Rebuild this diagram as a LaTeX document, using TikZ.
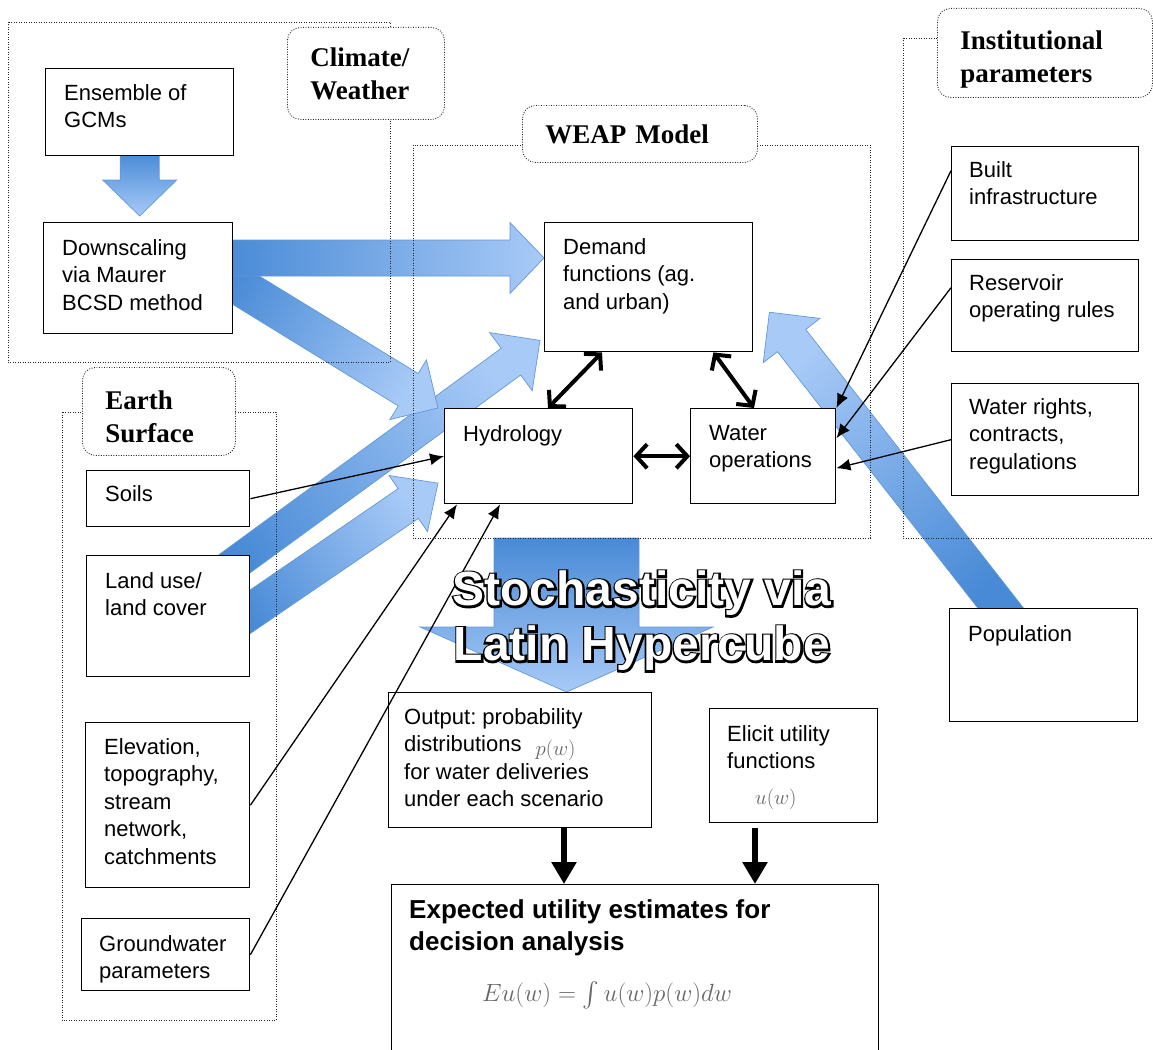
\documentclass[tikz,border=0pt]{standalone}
\usepackage{exscale}
\usepackage{fontspec}
\setmainfont{Liberation Serif}
\setsansfont{Liberation Sans}
\newfontfamily\outlinefont{Liberation Sans}[BoldFeatures={FakeBold=8}]
\usetikzlibrary{%
  positioning,
  calc,
  arrows.meta,
}

\definecolor{flowdark}{RGB}{72,138,214}
\definecolor{flowlight}{RGB}{168,202,247}
\definecolor{flowedge}{RGB}{98,152,218}

\pgfdeclarelayer{flows}
\pgfdeclarelayer{frames}
\pgfsetlayers{flows,frames,main}

% broad blue arrow: tail, tip, half shaft, half head, head length
\newcommand{\flowarrow}[5]{%
  \coordinate (fa-s) at #1;
  \coordinate (fa-t) at #2;
  \coordinate (fa-b) at ($(fa-t)!#5!(fa-s)$);
  \pgfmathanglebetweenpoints{\pgfpointanchor{fa-s}{center}}{\pgfpointanchor{fa-t}{center}}%
  \pgfmathsetmacro{\flowangle}{\pgfmathresult+90}%
  \path[flow, shading angle=\flowangle]
    ($(fa-s)!#3!90:(fa-t)$) -- ($(fa-b)!#3!-90:(fa-s)$) -- ($(fa-b)!#4!-90:(fa-s)$)
    -- (fa-t) -- ($(fa-b)!#4!90:(fa-s)$) -- ($(fa-b)!#3!90:(fa-s)$)
    -- ($(fa-s)!#3!-90:(fa-t)$) -- cycle;
}

\begin{document}
\begin{tikzpicture}[
    x=1pt, y=-1pt,
    box/.style={
      % The shape:
      rectangle, anchor=north west, inner sep=0pt,
      % The border:
      draw=black, line width=1.4pt,
      % The filling:
      fill=white,
    },
    % the text inside a box
    txt/.style={align=left, inner sep=0pt,
      font=\sffamily\frenchspacing\fontsize{22}{27.5}\selectfont},
    % dotted frames and their rounded titles
    frame/.style={draw=black!85, line width=0.9pt, dash pattern=on 0.9pt off 1.6pt},
    title/.style={frame, rounded corners=13pt, fill=white, anchor=north west,
      align=left, inner ysep=0pt, inner xsep=23pt,
      font=\bfseries\fontsize{27}{33}\selectfont},
    % the broad blue arrows
    flow/.style={top color=flowdark, bottom color=flowlight,
      draw=flowedge, line width=0.7pt},
    % black connectors
    link/.style={line width=1.3pt, -{Latex[length=14pt, width=12pt]}},
    both/.style={line width=4pt,
      {Straight Barb[length=11pt, width=24pt]}-{Straight Barb[length=11pt, width=24pt]}},
    feed/.style={line width=6pt, -{Triangle[length=22pt, width=24pt]}},
    % the big caption over the arrow
    caption/.style={anchor=north, align=center, inner sep=0pt,
      font=\outlinefont\bfseries\fontsize{48}{55}\selectfont},
  ]
  \useasboundingbox (0,0) rectangle (1153,1049);

  % Climate/Weather
  \node[box, minimum width=188, minimum height=87] (gcm) at (45,68) {};
  \node[txt, below right=16pt and 19pt of gcm.north west] (gcmtext) {Ensemble of\\GCMs};
  \node[box, minimum width=189, minimum height=111] (down) at (43,222) {};
  \node[txt, below right=17pt and 19pt of down.north west] (downtext) {Downscaling\\via Maurer\\BCSD method};
  \node[title, text width=111pt, minimum height=92] (climate) at (287,27) {Climate/\\Weather};

  % WEAP Model
  \node[box, minimum width=208, minimum height=129] (demand) at (544,222) {};
  \node[txt, below right=16pt and 19pt of demand.north west] (demandtext) {Demand\\functions (ag.\\and urban)};
  \node[box, minimum width=188, minimum height=95] (hydro) at (444,408) {};
  \node[txt, below right=17pt and 19pt of hydro.north west] (hydrotext) {Hydrology};
  \node[box, minimum width=145, minimum height=95] (water) at (690,408) {};
  \node[txt, below right=17pt and 19pt of water.north west] (watertext) {Water\\operations};
  \node[title, text width=189pt, minimum height=57] (weap) at (522,105) {WEAP Model};

  % Institutional parameters
  \node[box, minimum width=187, minimum height=94] (built) at (951,146) {};
  \node[txt, below right=15pt and 18pt of built.north west] (builttext) {Built\\infrastructure};
  \node[box, minimum width=187, minimum height=92] (reservoir) at (951,259) {};
  \node[txt, below right=15pt and 18pt of reservoir.north west] (reservoirtext) {Reservoir\\operating rules};
  \node[box, minimum width=187, minimum height=112] (rights) at (951,383) {};
  \node[txt, below right=15pt and 18pt of rights.north west] (rightstext) {Water rights,\\contracts,\\regulations};
  \node[box, minimum width=188, minimum height=113] (pop) at (949,608) {};
  \node[txt, below right=17pt and 19pt of pop.north west] (poptext) {Population};
  \node[title, text width=169pt, minimum height=89] (inst) at (937,8) {\rule{0pt}{31pt}Institutional\\parameters};

  % Earth Surface
  \node[box, minimum width=163, minimum height=56] (soils) at (86,470) {};
  \node[txt, below right=15pt and 19pt of soils.north west] (soilstext) {Soils};
  \node[box, minimum width=163, minimum height=121] (land) at (86,555) {};
  \node[txt, below right=17pt and 19pt of land.north west] (landtext) {Land use/\\land cover};
  \node[box, minimum width=164, minimum height=165] (elev) at (85,722) {};
  \node[txt, below right=16pt and 19pt of elev.north west] (elevtext) {Elevation,\\topography,\\stream\\network,\\catchments};
  \node[box, minimum width=168, minimum height=72] (gw) at (81,918) {};
  \node[txt, below right=17pt and 18pt of gw.north west] (gwtext) {Groundwater\\parameters};
  \node[title, text width=107pt, minimum height=88] (earth) at (82,367) {\rule{0pt}{29pt}Earth\\Surface};

  % results
  \node[box, minimum width=263, minimum height=135] (output) at (388,692) {};
  \node[txt, below right=16pt and 16pt of output.north west] (outputtext)
    {Output: probability\\distributions\hspace{14pt}\raisebox{-4pt}{\color{black!60}$p(w)$}\\for water deliveries\\under each scenario};
  \node[box, minimum width=168, minimum height=114] (elicit) at (709,708) {};
  \node[txt, below right=17pt and 18pt of elicit.north west] (elicittext)
    {Elicit utility\\functions\\[8pt]\hspace{28pt}{\color{black!60}$u(w)$}};
  \node[box, minimum width=487, minimum height=180] (expected) at (391,884) {};
  \node[txt, below right=15pt and 18pt of expected.north west,
    font=\sffamily\bfseries\fontsize{26}{32}\selectfont] (expectedtext)
    {Expected utility estimates for\\decision analysis};
  \node[inner sep=0pt, text=black!60, font=\fontsize{24}{30}\selectfont] (eu)
    at ($(expected.north west)+(216,111)$) {$Eu(w)=\int u(w)p(w)dw$};

  % broad arrows
  \coordinate (weapfoot) at (566.5,538);
  \begin{pgfonlayer}{flows}
    \flowarrow{($(land.north east)+(-49,33)$)}{($(demand.south west)+(-4,-12)$)}{16.5pt}{36pt}{36pt}
    \flowarrow{($(land.north east)+(-24,73)$)}{($(hydro.west)+(-6,27)$)}{18pt}{34pt}{36pt}
    \flowarrow{($(down.north east)+(-22,47)$)}{($(hydro.north west)+(-6,0)$)}{19pt}{35pt}{35pt}
    \flowarrow{($(down.north east)+(-10,36)$)}{($(demand.north west)+(0,36)$)}{18pt}{35.5pt}{34pt}
    \flowarrow{($(gcm.south)+(0,-4)$)}{($(gcm.south |- down.north)+(0,-6)$)}{19.5pt}{37pt}{36pt}
    \flowarrow{($(pop.north west)+(61,12)$)}{($(demand.east)+(16,25)$)}{18pt}{36pt}{36pt}
    \flowarrow{(weapfoot)}{($(output.north west)+(178.5,0)$)}{72.5pt}{146.5pt}{65pt}
  \end{pgfonlayer}

  % dotted frames
  \begin{pgfonlayer}{frames}
    \draw[frame] (8,22) rectangle (390,362);
    \draw[frame] (413,145) rectangle (870,538);
    \draw[frame] (903,38) rectangle (1165,538);
    \draw[frame] (62,412) rectangle (276,1020);
  \end{pgfonlayer}

  % inputs
  \draw[link] (soils.east) -- (hydro.west);
  \draw[link] (elev.east) -- ($(hydro.south west)+(13,0)$);
  \draw[link] (gw.east) -- ($(hydro.south west)+(56,0)$);
  \draw[link] ($(built.west)+(0,-23)$) -- (water.north east);
  \draw[link] ($(reservoir.west)+(0,-18)$) -- ($(water.east)+(0,-18)$);
  \draw[link] (rights.west) -- ($(water.east)+(0,12)$);

  % model links
  \draw[both] ($(demand.south west)+(58,0)$) -- ($(hydro.north west)+(104,0)$);
  \draw[both] ($(demand.south east)+(-40,0)$) -- ($(water.north west)+(64,0)$);
  \draw[both] (hydro.east) -- (water.west);

  \coordinate (outfoot) at ($(output.south west)+(176,0)$);
  \coordinate (elicitfoot) at ($(elicit.south west)+(46,5)$);
  \draw[feed] (outfoot) -- (outfoot |- expected.north);
  \draw[feed] (elicitfoot) -- (elicitfoot |- expected.north);

  % outlined caption: thick black copy under a white one
  \node[caption, text=black] (mcedge) at (642,571) {Stochasticity via\\Latin Hypercube};
  \node[caption, text=white, font=\sffamily\bfseries\fontsize{48}{55}\selectfont] (mc)
    at (mcedge.north) {Stochasticity via\\Latin Hypercube};
\end{tikzpicture}
\end{document}
